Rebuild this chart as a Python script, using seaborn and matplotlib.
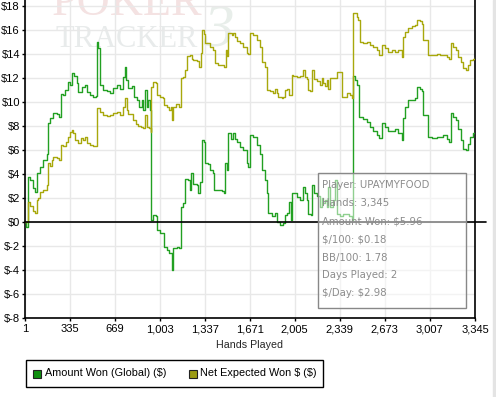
import matplotlib
matplotlib.use("Agg")
import matplotlib.pyplot as plt
import pandas as pd
import seaborn as sns
from matplotlib.patches import Rectangle

# ---------------- data ----------------
won_hands = [1, 8, 21, 26, 38, 63, 75, 88, 112, 137, 162, 170, 187, 211, 237, 256, 266, 286, 298, 323,
             335, 348, 365, 385, 397, 422, 447, 459, 484, 509, 529, 534, 546, 558, 583, 608, 633, 657, 682, 707,
             727, 742, 752, 769, 794, 811, 831, 850, 868, 880, 893, 905, 917, 930, 937, 954, 974, 984, 1004, 1024,
             1034, 1054, 1073, 1086, 1091, 1103, 1128, 1145, 1158, 1177, 1190, 1215, 1227, 1235, 1252, 1277, 1289, 1301, 1314, 1331,
             1339, 1363, 1376, 1396, 1405, 1437, 1463, 1480, 1489, 1500, 1512, 1530, 1549, 1562, 1574, 1599, 1623, 1648, 1660, 1673,
             1697, 1722, 1747, 1760, 1784, 1797, 1809, 1834, 1859, 1871, 1896, 1921, 1933, 1950, 1965, 1975, 1983, 2007, 2020, 2045,
             2069, 2082, 2094, 2106, 2124, 2136, 2149, 2169, 2193, 2206, 2218, 2231, 2243, 2255, 2268, 2288, 2305, 2317, 2342, 2367,
             2392, 2411, 2429, 2436, 2450, 2466, 2485, 2515, 2540, 2565, 2589, 2614, 2634, 2652, 2676, 2701, 2726, 2751, 2775, 2800,
             2812, 2825, 2849, 2874, 2899, 2912, 2936, 2949, 2961, 2986, 2998, 3023, 3060, 3085, 3109, 3134, 3154, 3164, 3184, 3204,
             3221, 3239, 3258, 3278, 3290, 3308, 3332, 3345]
won_values = [0.0, -0.4, -0.2, 3.75, 3.5, 2.8, 2.5, 4.1, 4.6, 5.2, 5.7, 8.25, 8.7, 9.1, 9.0, 8.75, 10.7, 10.6, 11.0, 11.7,
              11.4, 12.4, 12.2, 11.6, 10.8, 11.25, 11.4, 10.8, 10.6, 10.4, 10.5, 15.0, 14.5, 11.4, 11.0, 10.9, 10.75, 11.2, 11.4, 11.1,
              12.1, 12.9, 11.8, 11.2, 11.3, 10.4, 10.2, 9.6, 10.2, 9.3, 11.0, 9.6, 10.2, 9.3, 0.15, 0.6, 0.5, -0.67, -0.9, -0.9,
              -2.1, -2.3, -2.6, -2.6, -4.0, -2.2, -2.1, -2.2, 1.25, 1.6, 3.6, 3.5, 2.7, 4.1, 3.2, 3.1, 2.4, 3.3, 6.8, 6.7,
              4.9, 4.8, 4.3, 4.1, 2.7, 2.7, 2.6, 2.4, 4.9, 4.3, 7.4, 6.9, 7.4, 6.9, 6.7, 6.25, 6.0, 4.9, 4.6, 7.25,
              7.1, 6.4, 5.7, 4.3, 3.5, 2.4, 0.75, 0.5, 0.75, 0.0, -0.25, -0.1, 0.6, 0.75, 1.7, 0.2, 2.4, 2.4, 2.1, 1.8,
              2.9, 2.4, 1.8, 0.7, 0.6, 3.1, 2.4, 2.2, 1.25, 2.0, 1.6, 1.8, 1.25, 2.9, 1.25, 1.8, 3.5, 0.7, 0.5, 0.7,
              0.7, 0.5, 0.2, 12.2, 11.8, 11.4, 8.75, 8.6, 8.3, 7.9, 7.6, 7.25, 7.0, 8.25, 7.9, 7.6, 7.6, 7.75, 7.4, 6.8,
              8.7, 9.6, 10.2, 10.2, 10.3, 11.25, 11.1, 10.9, 8.9, 8.9, 7.1, 7.0, 7.1, 7.1, 7.25, 6.9, 6.7, 9.1, 8.75, 8.5,
              7.75, 6.8, 6.1, 6.0, 6.5, 7.1, 7.4, 7.5]

ev_hands = [1, 26, 38, 63, 75, 88, 100, 112, 137, 162, 170, 187, 199, 211, 237, 256, 266, 286, 306, 323,
            335, 348, 360, 373, 397, 415, 434, 447, 459, 484, 509, 534, 558, 583, 608, 633, 657, 682, 707, 727,
            744, 757, 769, 801, 826, 843, 861, 880, 893, 905, 925, 935, 940, 954, 972, 984, 1004, 1024, 1034, 1054,
            1073, 1086, 1093, 1103, 1123, 1148, 1158, 1177, 1190, 1207, 1227, 1240, 1252, 1277, 1296, 1307, 1314, 1331, 1339, 1376,
            1400, 1413, 1437, 1480, 1495, 1504, 1512, 1537, 1549, 1562, 1574, 1599, 1623, 1648, 1660, 1673, 1697, 1722, 1747, 1760,
            1784, 1797, 1822, 1846, 1859, 1871, 1883, 1909, 1921, 1933, 1950, 1965, 1983, 1995, 2020, 2045, 2065, 2082, 2094, 2106,
            2119, 2136, 2149, 2169, 2193, 2206, 2218, 2231, 2243, 2255, 2268, 2317, 2355, 2392, 2416, 2429, 2436, 2466, 2478, 2490,
            2515, 2540, 2565, 2589, 2614, 2634, 2652, 2676, 2701, 2726, 2751, 2775, 2800, 2812, 2825, 2849, 2874, 2899, 2912, 2936,
            2949, 2961, 2998, 3060, 3085, 3134, 3154, 3164, 3184, 3204, 3221, 3239, 3258, 3278, 3290, 3308, 3332, 3345]
ev_values = [0.0, 1.7, 1.3, 0.9, 0.75, 1.8, 2.0, 2.5, 2.7, 3.1, 4.9, 4.7, 5.2, 5.4, 5.3, 5.2, 6.4, 6.3, 6.7, 7.1,
             7.5, 7.7, 7.4, 6.8, 6.6, 7.0, 6.8, 7.1, 6.6, 6.4, 6.3, 9.5, 9.2, 8.9, 8.8, 8.9, 9.1, 9.2, 8.9, 9.6,
             10.3, 9.3, 9.0, 8.5, 8.2, 8.0, 7.9, 7.8, 8.9, 7.9, 7.8, 7.5, 11.25, 11.7, 11.6, 10.6, 10.4, 10.3, 9.75, 9.6,
             9.3, 9.6, 8.5, 9.6, 9.8, 9.6, 12.0, 12.1, 12.7, 13.8, 13.9, 13.6, 13.5, 13.4, 12.9, 14.1, 16.0, 15.7, 14.9, 14.6,
             14.3, 13.25, 13.1, 12.9, 14.3, 13.8, 15.75, 15.6, 15.75, 15.4, 15.1, 14.9, 14.6, 14.1, 14.0, 15.75, 15.6, 15.2, 14.6, 13.3,
             12.9, 11.0, 10.9, 10.75, 11.1, 10.75, 10.4, 10.3, 10.4, 11.0, 11.1, 10.6, 12.25, 12.2, 12.1, 12.2, 12.7, 12.1, 11.9, 11.0,
             10.9, 12.7, 11.9, 11.75, 11.4, 12.0, 11.6, 11.3, 11.8, 11.1, 12.0, 12.5, 10.4, 10.75, 10.6, 10.3, 17.4, 17.1, 16.8, 15.0,
             14.9, 15.0, 14.75, 14.6, 14.3, 13.9, 14.75, 14.5, 14.2, 14.3, 14.2, 14.3, 13.75, 15.4, 15.8, 16.2, 16.3, 16.4, 16.8, 16.75,
             16.5, 15.2, 13.9, 14.0, 13.9, 13.75, 13.6, 14.9, 14.6, 14.3, 13.75, 13.3, 12.8, 12.7, 13.1, 13.5, 13.6, 13.75]

series_labels = ["Amount Won (Global) ($)", "Net Expected Won $ ($)"]
x_ticks = [1, 335, 669, 1003, 1337, 1671, 2005, 2339, 2673, 3007, 3345]
y_ticks = [-8, -6, -4, -2, 0, 2, 4, 6, 8, 10, 12, 14, 16, 18]
tooltip_lines = ["Player: UPAYMYFOOD", "Hands: 3,345", "Amount Won: $5.96", "$/100: $0.18",
                 "BB/100: 1.78", "Days Played: 2", "$/Day: $2.98"]

# ---------------- styling ----------------
sns.set_style("white")
plt.rcParams['font.family'] = ['Liberation Sans', 'DejaVu Sans']
plt.rcParams['text.parse_math'] = False

GREEN = '#22a022'
OLIVE = '#a8a80c'
SWATCHES = ['#0f8f0f', '#9c9c14']
W, H = 496, 397


def fx(px):
    return px / W


def fy(py):
    return 1 - py / H


fig = plt.figure(figsize=(W / 100, H / 100), dpi=100)
ax = fig.add_axes([fx(25), fy(318), (475 - 25) / W, 318 / H])

df_won = pd.DataFrame({"hands": won_hands, "value": won_values})
df_ev = pd.DataFrame({"hands": ev_hands, "value": ev_values})

sns.lineplot(data=df_won, x="hands", y="value", ax=ax, color=GREEN, lw=1.0,
             drawstyle='steps-post', estimator=None, sort=False, legend=False, zorder=3)
sns.lineplot(data=df_ev, x="hands", y="value", ax=ax, color=OLIVE, lw=1.0,
             drawstyle='steps-post', estimator=None, sort=False, legend=False, zorder=3)

ax.set_xlim(1, 3345)
ax.set_ylim(-8, 18.5)
ax.set_xticks(x_ticks)
ax.set_xticklabels([f"{t:,}" for t in x_ticks])
ax.set_yticks(y_ticks)
ax.set_yticklabels([f"${t}" for t in y_ticks])
ax.grid(True, color='#e8e8e8', lw=1.0, zorder=0)
ax.set_axisbelow(True)
for side in ['left', 'bottom', 'right']:
    ax.spines[side].set_color('black')
    ax.spines[side].set_linewidth(1.2)
ax.spines['top'].set_visible(False)
ax.tick_params(axis='both', length=2.5, width=1, color='black', labelsize=8,
               pad=1.2, labelcolor='black')
ax.tick_params(axis='x', bottom=True, pad=2)
ax.tick_params(axis='y', left=True)
ax.set_xlabel("Hands Played", fontsize=7.7, labelpad=4)
ax.set_ylabel("")

# zero line (extends a bit past the right frame)
ax.plot([0, 1.0245], [0, 0], transform=ax.get_yaxis_transform(), color='black',
        lw=1.2, clip_on=False, zorder=4)

# watermark
ax.text(fx(52), fy(15), "POKER", transform=fig.transFigure, fontsize=33,
        family='Liberation Serif', color='#f4e2e2', va='baseline', ha='left', zorder=0.5)
ax.text(fx(56), fy(47), "TRACKER", transform=fig.transFigure, fontsize=22,
        family='Liberation Serif', color='#e8ebeb', va='baseline', ha='left', zorder=0.5)
ax.text(fx(203), fy(46), "3", transform=fig.transFigure, fontsize=44,
        family='Liberation Serif', style='italic', color='#e8eeea', va='baseline',
        ha='left', zorder=0.5)

# tooltip box
ax.add_patch(Rectangle((fx(318), fy(308)), (465.7 - 318) / W, (308 - 173) / H,
                       transform=fig.transFigure, facecolor=(1, 1, 1, 0.5),
                       edgecolor='#888888', lw=1.0, clip_on=False, zorder=5))
for i, line in enumerate(tooltip_lines):
    ax.text(fx(322), fy(185.5 + 18 * i), line, transform=fig.transFigure,
            fontsize=7.3, family='DejaVu Sans', color='#8c8c8c', va='center',
            ha='left', zorder=6)

# legend box (drawn in figure pixels to match the reference layout)
fig.patches.append(Rectangle((fx(25.5), fy(387)), (323 - 25.5) / W, (387 - 359.5) / H,
                             transform=fig.transFigure, facecolor='white',
                             edgecolor='black', lw=1.0))
for (sx, tx), label, sw in zip([(33, 45), (189, 200)], series_labels, SWATCHES):
    fig.patches.append(Rectangle((fx(sx), fy(377.5)), 8 / W, 8 / H,
                                 transform=fig.transFigure, facecolor=sw,
                                 edgecolor='#222222', lw=0.8))
    fig.text(fx(tx), fy(373.5), label, fontsize=7.8, color='black',
             va='center', ha='left')

# light band at the right edge
fig.patches.append(Rectangle((fx(493), 0), fx(496) - fx(493), 1,
                             transform=fig.transFigure, color='#e4e4e4', zorder=0))

fig.savefig("out.png", dpi=100)
